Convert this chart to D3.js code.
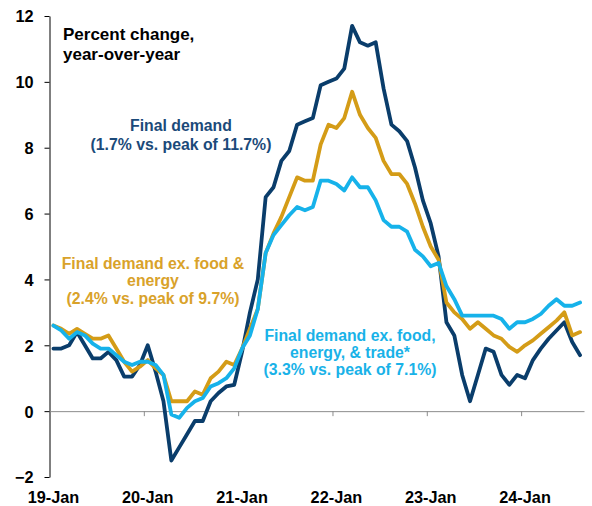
<!DOCTYPE html>
<html lang="en">
<head>
<meta charset="UTF-8">
<title>PPI final demand</title>
<style>
  body { margin: 0; background: #fff; }
  svg { display: block; font-family: "Liberation Sans", Arial, sans-serif; font-weight: bold; }
  .line { fill: none; stroke-width: 3.8px; stroke-linejoin: round; stroke-linecap: round; }
  .yaxis text, .xlabels text { font-size: 16.3px; font-weight: bold; fill: #000; }
  .yaxis path, .yaxis line { stroke: #000; }
  .xaxis path, .xaxis line { stroke: #8c8c8c; }
</style>
</head>
<body>
<svg width="592" height="506"></svg>
<script src="https://cdnjs.cloudflare.com/ajax/libs/d3/7.8.5/d3.min.js"></script>
<script>
// monthly, Jan 2019 .. Aug 2024, percent change y/y
var finalDemand = [
  1.9, 1.9, 2.0, 2.4, 2.0, 1.6, 1.6, 1.8, 1.55, 1.05, 1.05, 1.4,
  2.0, 1.2, 0.3, -1.5, -1.1, -0.7, -0.3, -0.3, 0.3, 0.55, 0.75, 0.8,
  1.8, 3.0, 4.0, 6.5, 6.8, 7.6, 7.9, 8.7, 8.8, 8.9, 9.9, 10.0,
  10.1, 10.4, 11.7, 11.2, 11.1, 11.2, 9.8, 8.7, 8.5, 8.2, 7.4, 6.4,
  5.7, 4.7, 2.7, 2.3, 1.1, 0.3, 1.1, 1.9, 1.8, 1.1, 0.8, 1.1,
  1.0, 1.55, 1.9, 2.2, 2.45, 2.7, 2.1, 1.7
];
var exFoodEnergy = [
  2.6, 2.5, 2.35, 2.5, 2.35, 2.2, 2.2, 2.3, 1.9, 1.5, 1.2, 1.35,
  1.55, 1.3, 1.1, 0.3, 0.3, 0.3, 0.6, 0.5, 1.0, 1.2, 1.5, 1.4,
  1.9, 2.5, 3.1, 4.8, 5.4, 5.9, 6.5, 7.1, 7.0, 7.0, 8.1, 8.7,
  8.6, 8.9, 9.7, 9.0, 8.6, 8.3, 7.6, 7.2, 7.2, 6.9, 6.3, 5.6,
  5.0, 4.6, 3.3, 3.0, 2.8, 2.5, 2.7, 2.5, 2.3, 2.2, 1.95, 1.8,
  2.0, 2.15, 2.35, 2.55, 2.75, 3.0, 2.3, 2.4
];
var exFoodEnergyTrade = [
  2.6, 2.45, 2.2, 2.4, 2.3, 2.05, 1.9, 1.9, 1.7, 1.5, 1.4, 1.5,
  1.5, 1.4, 1.1, -0.1, -0.2, 0.1, 0.3, 0.4, 0.75, 0.85, 1.0, 1.3,
  1.9, 2.3, 3.1, 4.8, 5.35, 5.65, 5.95, 6.2, 6.1, 6.2, 7.0, 7.0,
  6.9, 6.7, 7.1, 6.8, 6.8, 6.4, 5.8, 5.6, 5.6, 5.45, 4.9, 4.7,
  4.4, 4.5, 3.8, 3.4, 2.9, 2.9, 2.9, 2.9, 2.9, 2.8, 2.5, 2.7,
  2.7, 2.8, 2.95, 3.2, 3.4, 3.2, 3.2, 3.3
];
var yearLabels = ["19-Jan", "20-Jan", "21-Jan", "22-Jan", "23-Jan", "24-Jan"];
var yTicks = [-2, 0, 2, 4, 6, 8, 10, 12];

var svg = d3.select("svg");
var nMonths = 68;

// category axis: month i sits in the middle of its slot
var x = d3.scaleLinear().domain([0, nMonths]).range([49.5, 584]);
var y = d3.scaleLinear().domain([-2, 12]).range([477, 16]);

// y axis
svg.append("g")
  .attr("class", "yaxis")
  .attr("transform", "translate(49.5,0)")
  .call(d3.axisLeft(y).tickValues(yTicks).tickSize(5).tickSizeOuter(0).tickPadding(11))
  .call(function (g) { g.selectAll("text").attr("dy", "0.36em"); });

// zero line with year ticks
svg.append("g")
  .attr("class", "xaxis")
  .attr("transform", "translate(0," + y(0) + ")")
  .call(d3.axisBottom(x).tickValues([12, 24, 36, 48, 60]).tickSize(5).tickSizeOuter(0).tickFormat(""));

// year labels along the bottom
svg.append("g")
  .attr("class", "xlabels")
  .selectAll("text")
  .data(yearLabels)
  .enter()
  .append("text")
  .attr("x", function (d, i) { return x(i * 12 + 0.5); })
  .attr("y", 502.5)
  .attr("text-anchor", "middle")
  .text(function (d) { return d; });

var line = d3.line()
  .x(function (d, i) { return x(i + 0.5); })
  .y(function (d) { return y(d); });

var series = [
  { values: finalDemand, color: "#0a3d6b" },
  { values: exFoodEnergy, color: "#d49c17" },
  { values: exFoodEnergyTrade, color: "#16b2ea" }
];

svg.selectAll(".line")
  .data(series)
  .enter()
  .append("path")
  .attr("class", "line")
  .attr("stroke", function (d) { return d.color; })
  .attr("d", function (d) { return line(d.values); });

// annotations
function label(lines, cx, y0, step, color, size, anchor) {
  var t = svg.append("text")
    .attr("fill", color)
    .attr("font-size", size)
    .attr("text-anchor", anchor);
  lines.forEach(function (s, i) {
    t.append("tspan").attr("x", cx).attr("y", y0 + i * step).text(s);
  });
}

label(["Percent change,", "year-over-year"], 63, 40, 19.5, "#000", "17px", "start");
label(["Final demand", "(1.7% vs. peak of 11.7%)"], 181, 131, 19, "#1b4a7a", "15.8px", "middle");
label(["Final demand ex. food &", "energy", "(2.4% vs. peak of 9.7%)"], 153, 268.5, 17.5, "#d9a22a", "15.8px", "middle");
label(["Final demand ex. food,", "energy, & trade*", "(3.3% vs. peak of 7.1%)"], 350, 341, 17, "#19b2e8", "15.8px", "middle");
</script>
</body>
</html>
